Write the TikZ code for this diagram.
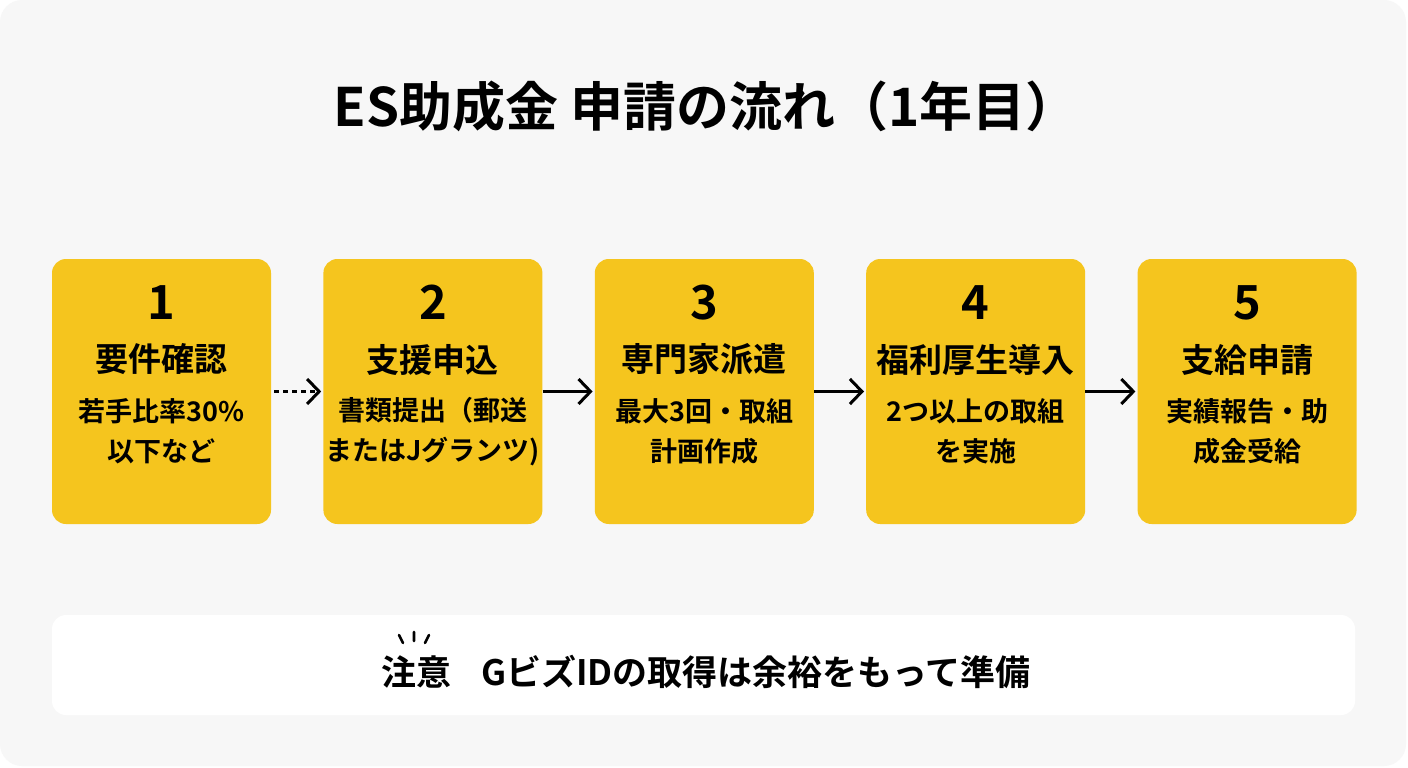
\documentclass[tikz,border=0pt]{standalone}
\usepackage{fontspec}
\setmainfont{Noto Sans CJK JP}[BoldFont={Noto Sans CJK JP Bold}]
\usetikzlibrary{arrows.meta,positioning}

\definecolor{stepyellow}{HTML}{F5C51E}
\definecolor{panelgray}{HTML}{F7F7F7}

\tikzset{
  stepbox/.style={rectangle,rounded corners=14pt,fill=stepyellow,
    minimum width=219pt,minimum height=265pt,inner sep=0pt},
  numtext/.style={font=\bfseries\fontsize{47}{56}\selectfont,inner sep=0pt},
  headtext/.style={font=\bfseries\fontsize{33}{40}\selectfont,inner sep=0pt},
  subtext/.style={font=\bfseries\fontsize{27}{40}\selectfont,align=center,inner sep=0pt},
  flow/.style={-{Straight Barb[length=12pt,width=25pt]},line width=3pt},
}

% one step: box name, number, heading, two sub lines
\newcommand{\flowtexts}[4]{%
  \node[numtext]  (#1num)  at ([yshift=89pt]#1.center) {#2};
  \node[headtext] (#1head) at ([yshift=32pt]#1.center) {#3};
  \node[subtext]  (#1sub)  at ([yshift=-40pt]#1.center) {#4};
}

\begin{document}
\begin{tikzpicture}[x=1pt,y=-1pt,node distance=52pt]
  \useasboundingbox (0,0) rectangle (1408,768);
  \fill[white] (0,0) rectangle (1408,768);
  \fill[panelgray,rounded corners=22pt] (0,0) rectangle (1406,766);

  \node[font=\bfseries\fontsize{53}{62}\selectfont,inner sep=0pt] (title) at (706,106)
    {ES助成金 申請の流れ（1年目）};

  \node[stepbox] (s1) at (161.5,391.5) {};
  \node[stepbox] (s2) [right=of s1] {};
  \node[stepbox] (s3) [right=of s2] {};
  \node[stepbox] (s4) [right=of s3] {};
  \node[stepbox] (s5) [right=of s4] {};

  \flowtexts{s1}{1}{要件確認}{若手比率30\%\\以下など}
  \flowtexts{s2}{2}{支援申込}{書類提出（郵送\\またはJグランツ)}
  \flowtexts{s3}{3}{専門家派遣}{最大3回・取組\\計画作成}
  \flowtexts{s4}{4}{福利厚生導入}{2つ以上の取組\\を実施}
  \flowtexts{s5}{5}{支給申請}{実績報告・助\\成金受給}

  \draw[flow,dash pattern=on 5pt off 4pt] ([xshift=3pt]s1.east) -- ([xshift=-2pt]s2.west);
  \draw[flow] (s2.east) -- ([xshift=-2pt]s3.west);
  \draw[flow] (s3.east) -- ([xshift=-2pt]s4.west);
  \draw[flow] (s4.east) -- ([xshift=-2pt]s5.west);

  % note bar
  \node[rectangle,rounded corners=14pt,fill=white,minimum width=1303pt,
    minimum height=100pt,inner sep=0pt] (notebox) at (703.5,665) {};
  \node[font=\bfseries\fontsize{35}{42}\selectfont,inner sep=0pt] (notetext) at (706,672)
    {注意\hspace{30pt}GビズIDの取得は余裕をもって準備};
  \draw[line width=2.6pt,line cap=round] (399,635) -- (403,643)
    (414,632) -- (414,641) (429,635) -- (425,643);
\end{tikzpicture}
\end{document}
